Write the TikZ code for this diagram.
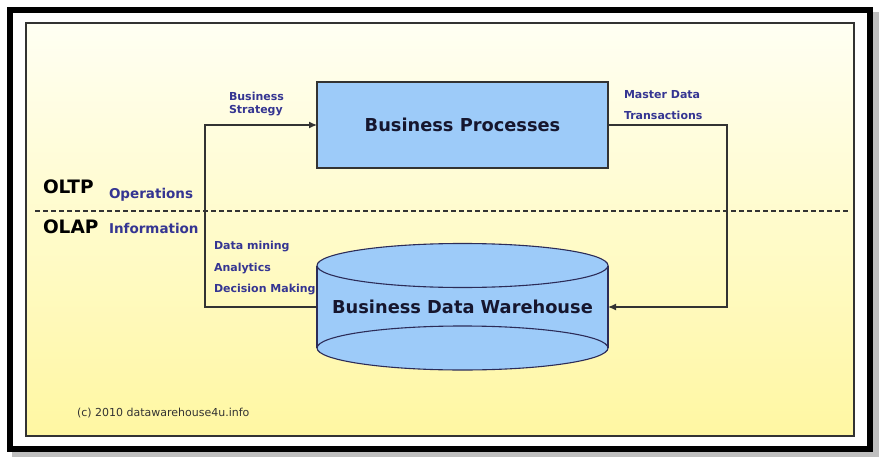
\documentclass[tikz,border=0pt]{standalone}
\usepackage{fontspec}
\setmainfont{DejaVu Sans}
\usepackage{xcolor}
\usepackage{tikz}
\usetikzlibrary{arrows.meta,positioning}
\definecolor{paneltop}{HTML}{FFFFF3}
\definecolor{panelbot}{HTML}{FFF7A2}
\definecolor{procfill}{HTML}{9DCBF9}
\definecolor{lblblue}{HTML}{353592}
\definecolor{edgegrey}{HTML}{333333}
\definecolor{cylline}{HTML}{2C2C58}
\definecolor{titlenavy}{HTML}{16162E}

\begin{document}
\begin{tikzpicture}[x=1pt, y=-1pt, every node/.style={inner sep=0pt, outer sep=0pt},
    lbl/.style={font=\fontsize{11}{13}\selectfont\bfseries, text=lblblue, align=left},
    lyr/.style={font=\fontsize{18.5}{20}\selectfont\bfseries, text=black},
    lyrsub/.style={font=\fontsize{13.5}{15}\selectfont\bfseries, text=lblblue},
    flow/.style={draw=edgegrey, line width=1.3pt, -{Latex[length=8pt, width=7pt]}}]
    \useasboundingbox (0,0) rectangle (888,468);
    % frame and panel
    \fill[black!25] (12,12) rectangle (879,457);
    \fill[black] (7,7) rectangle (873,452);
    \fill[white] (13,13) rectangle (867,446);
    \shade[top color=paneltop, bottom color=panelbot] (26,23) rectangle (854,436);
    \draw[edgegrey, line width=1.2pt] (26,23) rectangle (854,436);
    \draw[edgegrey, line width=1.2pt, dash pattern=on 5pt off 3pt] (35,211) -- (848,211);

    % cylinder
    \fill[procfill] (317,265.5) -- (317,348) arc[start angle=180, end angle=360, x radius=145.5pt, y radius=22pt]
        -- (608,265.5) arc[start angle=0, end angle=180, x radius=145.5pt, y radius=22pt];
    \draw[cylline, line width=1.1pt] (317,265.5) -- (317,348);
    \draw[cylline, line width=1.1pt] (608,265.5) -- (608,348);
    \draw[cylline, line width=1.1pt] (462.5,265.5) ellipse[x radius=145.5pt, y radius=22pt];
    \draw[cylline, line width=1.1pt] (462.5,348) ellipse[x radius=145.5pt, y radius=22pt];

    \node[draw=edgegrey, line width=1.3pt, fill=procfill, minimum width=291pt, minimum height=86pt,
        text=titlenavy, font=\fontsize{17.8}{20}\selectfont\bfseries] (procs) at (462.5,125) {Business Processes};
    \node[minimum width=291pt, minimum height=82pt, text=titlenavy, font=\fontsize{17.8}{20}\selectfont\bfseries]
        (dwh) at (462.5,307) {Business Data Warehouse};

    \node[lyr, anchor=base west] (oltp) at (43,193) {OLTP};
    \node[lyrsub, anchor=base west] (ops) at (109,198) {Operations};
    \node[lyr, anchor=base west] (olap) at (43,233) {OLAP};
    \node[lyrsub, anchor=base west] (info) at (109,233) {Information};

    \node[lbl, anchor=north west] (strat) at (229,91.8) {Business\\Strategy};
    \node[lbl, anchor=north west, font=\fontsize{11}{21}\selectfont\bfseries] (mdata) at (624,90.6) {Master Data\\Transactions};
    \node[lbl, anchor=north west, font=\fontsize{11}{21.5}\selectfont\bfseries] (mining) at (214,241.6) {Data mining\\Analytics\\Decision Making};

    \node[anchor=base west, font=\fontsize{11}{13}\selectfont, text=edgegrey] (copy) at (77,416) {(c) 2010 datawarehouse4u.info};

    \draw[flow] (dwh.west) -- ++(-112,0) |- (procs.west);
    \draw[flow] (procs.east) -- ++(119,0) |- (dwh.east);
\end{tikzpicture}
\end{document}
